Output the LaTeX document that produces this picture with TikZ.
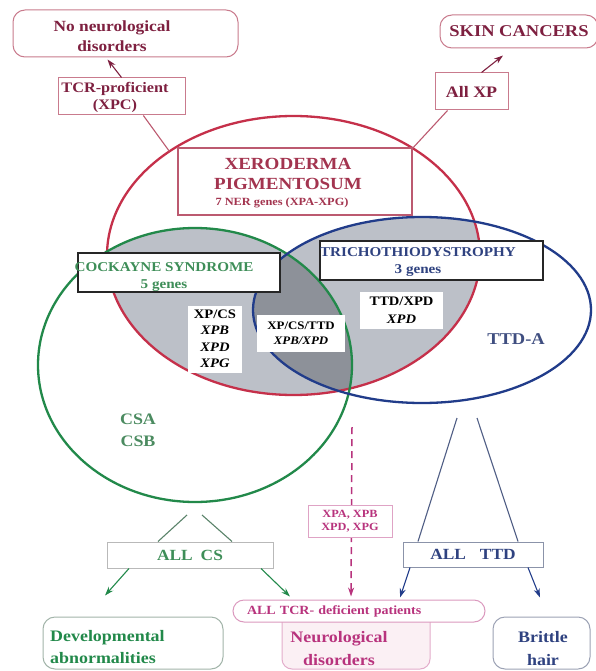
\documentclass[tikz,border=0pt]{standalone}
\usepackage{fontspec}
\setmainfont{Liberation Serif}[FakeStretch=1.12]
\usetikzlibrary{shapes.geometric,arrows.meta,calc}

\definecolor{xpred}{HTML}{C5304A}
\definecolor{csgreen}{HTML}{22894A}
\definecolor{ttdblue}{HTML}{213C8A}
\definecolor{maroon}{HTML}{7E2040}
\definecolor{xptext}{HTML}{A3344F}
\definecolor{xpframe}{HTML}{BC5A70}
\definecolor{cstext}{HTML}{3E8E58}
\definecolor{ttdtext}{HTML}{2F4280}
\definecolor{magen}{HTML}{B8337D}
\definecolor{shadelight}{HTML}{BCC0C8}
\definecolor{shadedark}{HTML}{8D9199}
\definecolor{pinkfill}{HTML}{FBF0F4}

\newcommand\fsz[2]{\fontsize{#1}{#2}\selectfont\bfseries}

\tikzset{
  framebox/.style={draw, fill=white, line width=1pt, inner sep=0pt, align=center},
  thickbox/.style={draw=black!85, fill=white, line width=2pt, inner sep=0pt},
  labelbox/.style={fill=white, inner sep=0pt, align=center},
  txt/.style={inner sep=0pt, align=center},
  ring/.style={ellipse, draw, line width=2.3pt, inner sep=0pt, outer sep=0pt},
  link/.style={line width=1.1pt},
  tip/.style={-{Stealth[length=9pt,width=6pt]}},
}

\begin{document}
\begin{tikzpicture}[x=1pt,y=-1pt]
\useasboundingbox (0,0) rectangle (596,671);
\fill[white] (0,0) rectangle (596,671);

% shaded overlaps of the three syndromes
\begin{scope}
  \clip (293.5,255.5) ellipse [x radius=186.5pt, y radius=139.5pt];
  \fill[shadelight] (195,365) ellipse [x radius=157pt, y radius=137pt];
  \fill[shadelight] (422,310) ellipse [x radius=169pt, y radius=93pt];
  \clip (195,365) ellipse [x radius=157pt, y radius=137pt];
  \fill[shadedark] (422,310) ellipse [x radius=169pt, y radius=93pt];
\end{scope}

% the three syndromes
\node[ring, draw=xpred, minimum width=373pt, minimum height=279pt] (xp) at (293.5,255.5) {};
\node[ring, draw=csgreen, minimum width=314pt, minimum height=274pt] (cs) at (195,365) {};
\node[ring, draw=ttdblue, minimum width=338pt, minimum height=186pt] (ttd) at (422,310) {};

% gene labels in the overlaps
\node[labelbox, minimum width=54pt, minimum height=67pt, font=\fsz{13}{16.5}] (xpcs) at (215,339) {XP/CS\\\textit{XPB}\\\textit{XPD}\\\textit{XPG}};
\node[labelbox, minimum width=88pt, minimum height=37pt, font=\fsz{11.5}{15}] (xpcsttd) at (301,333.5) {XP/CS/TTD\\\textit{XPB/XPD}};
\node[labelbox, minimum width=83pt, minimum height=37pt, font=\fsz{13}{18}] (ttdxpd) at (401.5,310.5) {TTD/XPD\\\textit{XPD}};

% syndrome titles
\node[framebox, draw=xpframe, line width=1.3pt, minimum width=234pt, minimum height=67pt] (xpbox) at (295,181.5) {};
\node[txt, text=xptext, font=\fsz{17}{20}] (xptitle) at (288,174) {XERODERMA\\PIGMENTOSUM};
\node[txt, text=xptext, font=\fsz{11}{13}] (xpgenes) at (282,203) {7 NER genes (XPA-XPG)};

\node[thickbox, minimum width=202pt, minimum height=39pt] (csbox) at (179,272) {};
\node[txt, text=cstext, font=\fsz{13.5}{16.5}] (cstitle) at (164,277) {COCKAYNE SYNDROME\\5 genes};

\node[thickbox, minimum width=223pt, minimum height=39pt] (ttdbox) at (431.5,260) {};
\node[txt, text=ttdtext, font=\fsz{13.5}{17}] (ttdtitle) at (418,262) {TRICHOTHIODYSTROPHY\\3 genes};

% complementation groups outside the overlaps
\node[txt, text=ttdtext!80!gray, font=\fsz{16.5}{20}] (ttda) at (516,339) {TTD-A};
\node[txt, text=cstext!80!gray, font=\fsz{16}{22}] (csab) at (138,430) {CSA\\CSB};

% top: XP outcomes
\node[framebox, draw=xpframe!80, rounded corners=12pt, minimum width=225pt, minimum height=47pt] (noneuro) at (125.5,33.5) {};
\node[txt, text=maroon, font=\fsz{15.5}{20}] (noneurotxt) at (112,36) {No neurological\\disorders};
\node[framebox, draw=xpframe!80, minimum width=127pt, minimum height=37pt] (tcr) at (121.5,96.5) {};
\node[txt, text=maroon, font=\fsz{14.5}{17}] (tcrtxt) at (115,97.5) {TCR-proficient\\(XPC)};
\node[framebox, draw=xpframe!80, rounded corners=12pt, minimum width=158pt, minimum height=33pt, text=maroon, font=\fsz{16.5}{20}] (skin) at (519,31.5) {SKIN CANCERS};
\node[framebox, draw=xpframe!80, minimum width=73pt, minimum height=37pt, text=maroon, font=\fsz{16}{20}] (allxp) at (471.5,91.5) {All XP};

\draw[link, maroon, tip] (tcr.north) -- ($(noneuro.south)+(-18,2)$);
\draw[link, xpframe] (tcr.-41) -- (xp.140);
\draw[link, maroon, tip] ($(allxp.north)+(10,0)$) -- ($(skin.south)+(-16,7)$);
\draw[link, xpframe] ($(allxp.south)+(-24,0)$) -- (xp.42);

% bottom: clinical outcomes
\node[framebox, draw=magen!40, fill=pinkfill, rounded corners=10pt, minimum width=148pt, minimum height=59pt] (neuro) at (356,639.5) {};
\node[txt, text=magen, font=\fsz{16}{23}] (neurotxt) at (339,649) {Neurological\\disorders};
\node[framebox, draw=magen!50, rounded corners=11pt, minimum width=252pt, minimum height=22pt, text=magen, font=\fsz{12.5}{14}, text width=224pt, align=left] (tcrdef) at (359,611) {ALL TCR- deficient patients};
\node[framebox, draw=csgreen!30!gray!60, rounded corners=12pt, minimum width=180pt, minimum height=52pt] (dev) at (133,643) {};
\node[txt, text=csgreen, font=\fsz{16}{22}, align=left, anchor=west] (devtxt) at (50,647) {Developmental\\abnormalities};
\node[framebox, draw=ttdblue!40!gray!60, rounded corners=12pt, minimum width=97pt, minimum height=52pt] (brittle) at (541.5,643) {};
\node[txt, text=ttdtext, font=\fsz{16}{23}] (brittletxt) at (543,649) {Brittle\\hair};

% XP genes leading to neurological disease
\coordinate (dashtop) at (352,427);
\draw[magen, line width=1.5pt, dash pattern=on 7pt off 5pt, tip] (dashtop) -- ($(tcrdef.north)+(-8,-3)$);
\node[framebox, draw=magen!45, minimum width=84pt, minimum height=32pt, text=magen, font=\fsz{11}{13}] (xpabox) at (350,521) {XPA, XPB\\XPD, XPG};

% CS branch
\coordinate (csv1) at (187,515);
\coordinate (csv2) at (202,515);
\node[framebox, draw=gray!55, minimum width=166pt, minimum height=26pt, text=cstext, font=\fsz{15.5}{18}] (allcs) at (190,555) {ALL\hspace{8pt}CS};
\draw[link, gray!60!csgreen] (csv1) -- ($(allcs.north)+(-32,0)$);
\draw[link, gray!60!csgreen] (csv2) -- ($(allcs.north)+(42,0)$);
\draw[link, csgreen, tip] ($(allcs.south)+(-61,0)$) -- ($(dev.north)+(-28,-21)$);
\draw[link, csgreen, tip] ($(allcs.south)+(71,0)$) -- ($(tcrdef.north)+(-69,-3)$);

% TTD branch
\coordinate (ttdv1) at (457,418);
\coordinate (ttdv2) at (477,418);
\node[framebox, draw=gray!60!ttdblue!70, minimum width=140pt, minimum height=25pt, text=ttdtext, font=\fsz{15.5}{18}] (allttd) at (473,554.5) {ALL\hspace{14pt}TTD};
\draw[link, gray!50!ttdblue] (ttdv1) -- ($(allttd.north)+(-55,0)$);
\draw[link, gray!50!ttdblue] (ttdv2) -- ($(allttd.north)+(45,0)$);
\draw[link, ttdblue, tip] ($(allttd.south)+(-63,0)$) -- ($(tcrdef.north)+(41,-2)$);
\draw[link, ttdblue, tip] ($(allttd.south)+(55,0)$) -- ($(brittle.north)+(-1.5,-19)$);
\end{tikzpicture}
\end{document}
